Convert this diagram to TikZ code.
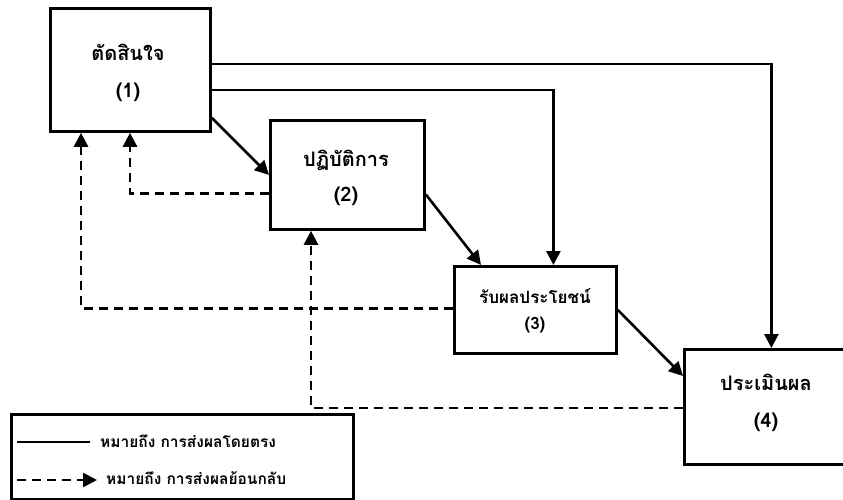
\documentclass[tikz,border=0pt]{standalone}
\usepackage{fontspec}
\newfontfamily\thaifont[Script=Thai]{Loma}
\usetikzlibrary{arrows.meta,calc}
\tikzset{
  box/.style={draw, line width=2.8pt, rectangle, inner sep=0pt, anchor=north west},
  lbl/.style={font=\thaifont\bfseries\fontsize{20}{24}\selectfont, inner sep=0pt},
  mlbl/.style={font=\thaifont\bfseries\fontsize{17}{19}\selectfont, inner sep=0pt},
  slbl/.style={font=\thaifont\bfseries\fontsize{15.5}{18}\selectfont, inner sep=0pt},
  conn/.style={line width=2.6pt, -{Triangle[length=14pt,width=14pt]}},
  fb/.style={line width=2.6pt, dash pattern=on 9pt off 6pt, -{Triangle[length=14pt,width=14pt]}},
}
\begin{document}
\begin{tikzpicture}[x=1pt,y=-1pt]
\useasboundingbox (0,0) rectangle (843,500);
\clip (0,0) rectangle (843,500);
% boxes
\node[box, minimum width=160pt, minimum height=123pt] (b1) at (49,7) {};
\node[box, minimum width=154pt, minimum height=109pt] (b2) at (269,119) {};
\node[box, minimum width=162pt, minimum height=87pt] (b3) at (453,265) {};
\node[box, minimum width=174pt, minimum height=115pt] (b4) at (683,348) {};
% labels
\node[lbl] (t1a) at (128,52) {ตัดสินใจ};
\node[lbl] (t1b) at (128,92) {(1)};
\node[lbl] (t2a) at (346,160) {ปฏิบัติการ};
\node[lbl] (t2b) at (346,196) {(2)};
\node[mlbl] (t3a) at (535,296) {รับผลประโยชน์};
\node[mlbl] (t3b) at (535,325) {(3)};
\node[lbl] (t4a) at (766,382) {ประเมินผล};
\node[lbl] (t4b) at (766,422) {(4)};
% direct connectors
\draw[conn] ($(b1.north east)+(0,57)$) -| (b4.north);
\draw[conn] ($(b1.north east)+(0,83)$) -| ($(b3.north)+(18,0)$);
\draw[conn] ($(b1.south east)+(0,-15)$) -- (b2.west);
\draw[conn] ($(b2.east)+(0,19.5)$) -- ($(b3.north west)+(28,0)$);
\draw[conn] (b3.east) -- ($(b4.north west)+(0,28)$);
% feedback connectors
\draw[fb] ($(b2.west)+(0,18.5)$) -| ($(b1.south west)+(81,0)$);
\draw[fb] ($(b3.west)+(0,-1.5)$) -| ($(b1.south west)+(32,0)$);
\draw[fb] ($(b4.west)+(0,1)$) -| ($(b2.south west)+(42,0)$);
% legend
\node[box, minimum width=342pt, minimum height=85pt] (leg) at (10,413) {};
\coordinate (l1s) at (17,442);
\coordinate (l1e) at (90,442);
\coordinate (l2s) at (17,480);
\coordinate (l2e) at (97,480);
\draw[line width=2.6pt] (l1s) -- (l1e);
\draw[fb] (l2s) -- (l2e);
\node[slbl, anchor=west] (lt1) at (100,441) {หมายถึง การส่งผลโดยตรง};
\node[slbl, anchor=west] (lt2) at (106,478) {หมายถึง การส่งผลย้อนกลับ};
\end{tikzpicture}
\end{document}
